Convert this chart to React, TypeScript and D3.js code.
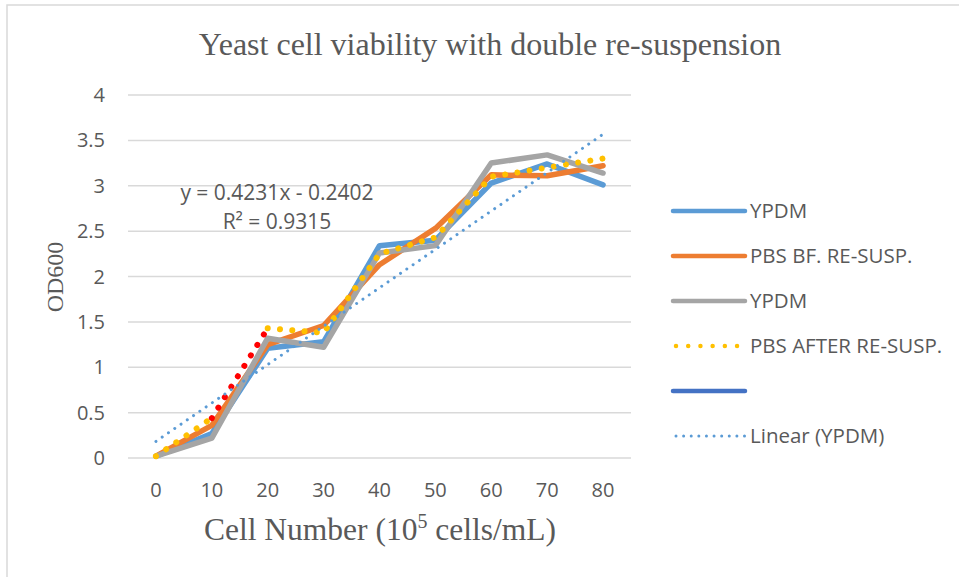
import React from 'react';
import * as d3 from 'd3';

// cell number (10^5 cells/mL)
const categories = ['0', '10', '20', '30', '40', '50', '60', '70', '80'];

const ypdmA = [0.02, 0.27, 1.21, 1.28, 2.34, 2.4, 3.03, 3.24, 3.01];
const pbsBefore = [0.02, 0.36, 1.25, 1.46, 2.13, 2.53, 3.12, 3.11, 3.22];
const ypdmB = [0.02, 0.22, 1.32, 1.22, 2.26, 2.34, 3.25, 3.34, 3.14];
const pbsAfter = [0.02, 0.44, 1.43, 1.38, 2.25, 2.43, 3.1, 3.2, 3.3];
// segment of the "after" series that is highlighted in red (from index -> to index)
const highlightSegment = [1, 2];

// linear trendline on first YPDM series, x = 1..n
const trendSlope = 0.4231;
const trendIntercept = -0.2402;
const trendR2 = 0.9315;

const yTicks = [0, 0.5, 1, 1.5, 2, 2.5, 3, 3.5, 4];

const legendItems = [
  { label: 'YPDM', color: '#5B9BD5', kind: 'solid' },
  { label: 'PBS BF. RE-SUSP.', color: '#ED7D31', kind: 'solid' },
  { label: 'YPDM', color: '#A5A5A5', kind: 'solid' },
  { label: 'PBS AFTER RE-SUSP.', color: '#FFC000', kind: 'dot' },
  { label: '', color: '#4472C4', kind: 'solid' },
  { label: 'Linear (YPDM)', color: '#5B9BD5', kind: 'trend' },
];

const W = 959;
const H = 577;
const plot = { left: 128, right: 631, top: 95, bottom: 458 };
const textColor = '#595959';
const sans = '"Open Sans", sans-serif';
const serif = '"Liberation Serif", "Times New Roman", serif';

export default function App() {
  const x = d3.scalePoint<string>().domain(categories).range([plot.left, plot.right]).padding(0.5);
  const y = d3.scaleLinear().domain([0, 4]).range([plot.bottom, plot.top]);

  const line = d3
    .line<number>()
    .x((_, i) => x(categories[i]) as number)
    .y((d) => y(d));

  // piece of a series between two indices
  const piece = (vals: number[], from: number, to: number) =>
    d3
      .line<number>()
      .x((_, i) => x(categories[i + from]) as number)
      .y((d) => y(d))(vals.slice(from, to + 1)) ?? '';

  const [h0, h1] = highlightSegment;
  const trend = categories.map((_, i) => trendSlope * (i + 1) + trendIntercept);

  const lineW = 5.5;
  const dotDash = '0.01 12.3';
  const trendDash = '0.01 7.6';

  const legendX0 = 673;
  const legendX1 = 745;
  const legendY0 = 211;
  const legendStep = 45;

  return (
    <svg width={W} height={H} style={{ position: 'absolute', left: 0, top: 0, background: '#fff' }}>
      <rect x={7} y={5} width={W} height={H} fill="#fff" stroke="#D9D9D9" strokeWidth={1.5} />

      <text x={490} y={55} textAnchor="middle" fontFamily={serif} fontSize={32} fill={textColor}>
        Yeast cell viability with double re-suspension
      </text>

      {yTicks.map((t) => (
        <g key={t}>
          <line x1={plot.left} x2={plot.right} y1={y(t)} y2={y(t)} stroke="#D9D9D9" strokeWidth={1.5} />
          <text x={105} y={y(t) + 7} textAnchor="end" fontFamily={sans} fontSize={20} fill={textColor}>
            {t}
          </text>
        </g>
      ))}

      {categories.map((c) => (
        <text key={c} x={x(c)} y={497} textAnchor="middle" fontFamily={sans} fontSize={20} fill={textColor}>
          {c}
        </text>
      ))}

      <g fill="none" strokeLinecap="round" strokeLinejoin="round">
        <path d={line(ypdmA) ?? ''} stroke="#5B9BD5" strokeWidth={lineW} />
        <path d={line(pbsBefore) ?? ''} stroke="#ED7D31" strokeWidth={lineW} />
        <path d={line(ypdmB) ?? ''} stroke="#A5A5A5" strokeWidth={lineW} />
        <path d={piece(pbsAfter, 0, h0)} stroke="#FFC000" strokeWidth={lineW + 0.5} strokeDasharray={dotDash} />
        <path d={piece(pbsAfter, h0, h1)} stroke="#FF0000" strokeWidth={lineW + 0.5} strokeDasharray={dotDash} />
        <path
          d={piece(pbsAfter, h1, categories.length - 1)}
          stroke="#FFC000"
          strokeWidth={lineW + 0.5}
          strokeDasharray={dotDash}
        />
        <path d={line(trend) ?? ''} stroke="#5B9BD5" strokeWidth={3} strokeDasharray={trendDash} />
      </g>

      <text textAnchor="middle" fontFamily={sans} fontSize={21} fill={textColor}>
        <tspan x={277} y={200}>{`y = ${trendSlope}x - ${Math.abs(trendIntercept)}`}</tspan>
        <tspan x={277} y={229}>{`R² = ${trendR2}`}</tspan>
      </text>

      <text x={380} y={540} textAnchor="middle" fontFamily={serif} fontSize={31.5} fill={textColor}>
        Cell Number (10
        <tspan fontSize={20} dy={-12}>5</tspan>
        <tspan dy={12}> cells/mL)</tspan>
      </text>

      <text
        transform={`translate(63, 277) rotate(-90)`}
        textAnchor="middle"
        fontFamily={serif}
        fontSize={24}
        fill={textColor}
      >
        OD600
      </text>

      {legendItems.map((item, i) => {
        const ly = legendY0 + i * legendStep;
        return (
          <g key={i}>
            <line
              x1={legendX0 + (item.kind === 'solid' ? 0 : 3)}
              x2={legendX1}
              y1={ly}
              y2={ly}
              stroke={item.color}
              strokeWidth={item.kind === 'trend' ? 3 : lineW - 1}
              strokeLinecap="round"
              strokeDasharray={item.kind === 'dot' ? '0.01 12.2' : item.kind === 'trend' ? trendDash : undefined}
            />
            <text x={750} y={ly + 7} fontFamily={sans} fontSize={20.5} fill={textColor}>
              {item.label}
            </text>
          </g>
        );
      })}
    </svg>
  );
}
